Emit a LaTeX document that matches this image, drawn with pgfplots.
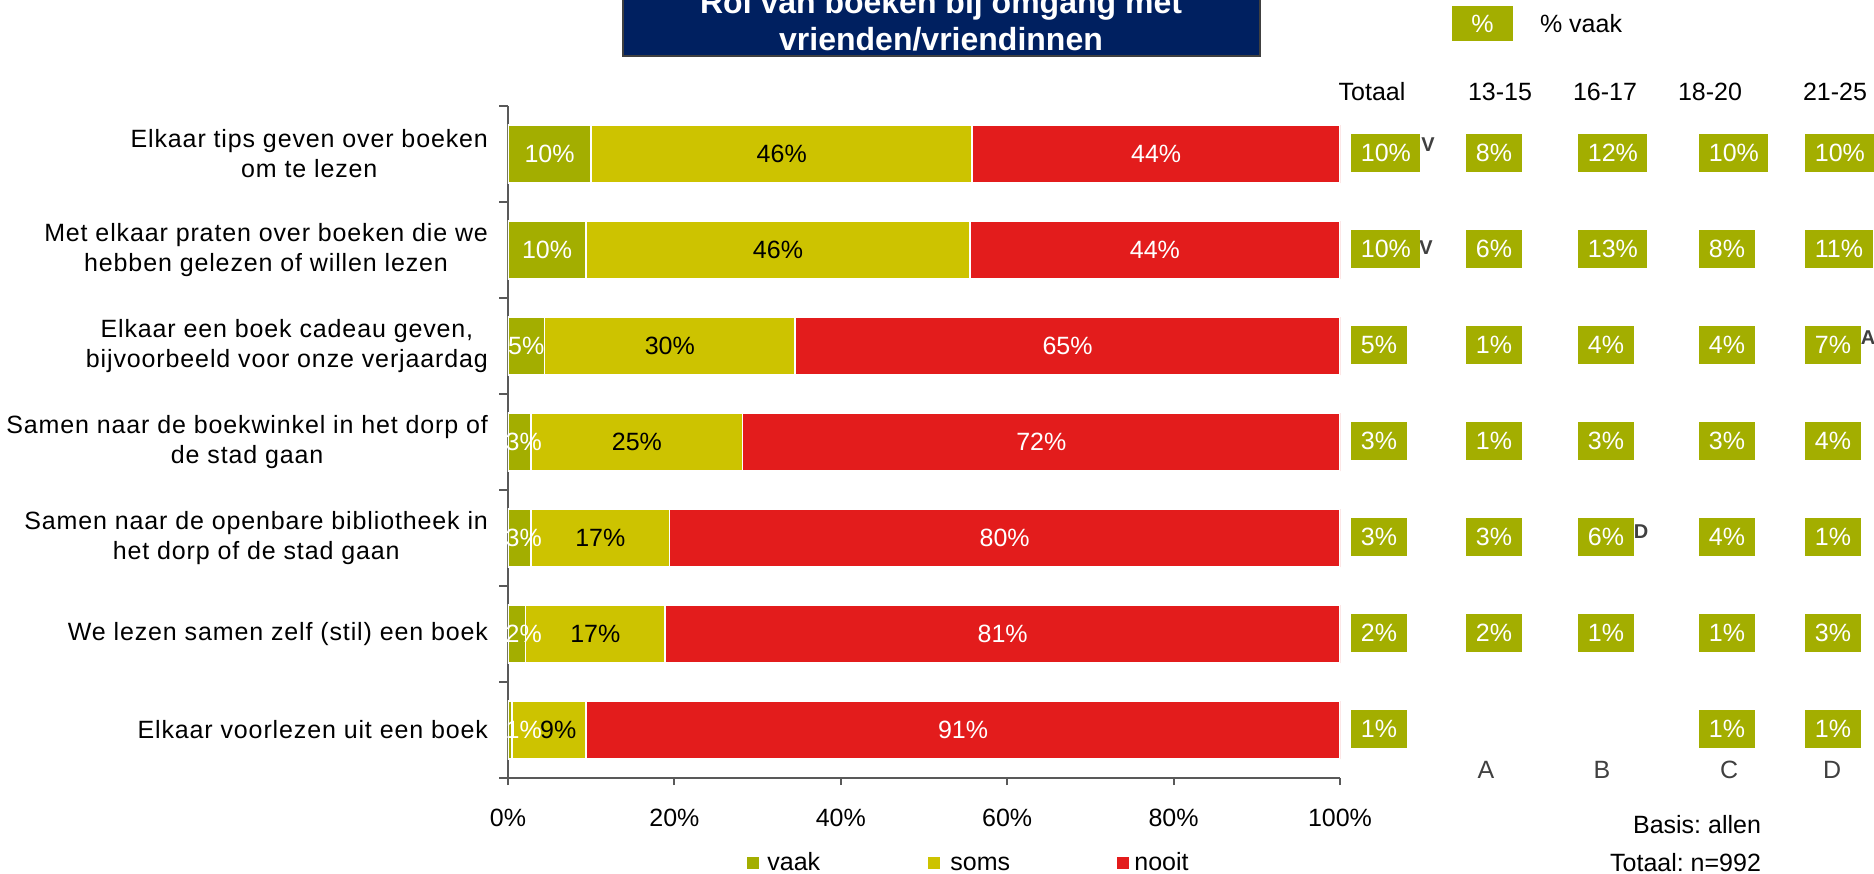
\documentclass[border=0pt]{standalone}
\usepackage{pgfplots}
\pgfplotsset{compat=1.18}
\usepackage{fontspec}
\setmainfont{Liberation Sans}
\newfontfamily\catfont[LetterSpace=3.5]{Liberation Sans}
\frenchspacing

\definecolor{vaak}{HTML}{A3AE00}
\definecolor{soms}{HTML}{CDC300}
\definecolor{nooit}{HTML}{E31C1C}
\definecolor{navy}{HTML}{002060}
\definecolor{axgray}{HTML}{595959}
\definecolor{lettergray}{HTML}{404040}

\newcommand{\fs}{\fontsize{12.5}{15}\selectfont}

\begin{document}
\begin{tikzpicture}
\begin{scope}
\clip (0pt,0pt) rectangle (937pt,-436.5pt);

% overlay in pixel units (1 unit = 0.5pt), y downwards
\begin{axis}[
    at={(0pt,0pt)}, anchor=north west,
    width=937pt, height=436.5pt, scale only axis,
    xmin=0, xmax=1874, ymin=0, ymax=873, y dir=reverse,
    hide axis, clip=false]

  % title box
  \fill[navy] (axis cs:623,-20) rectangle (axis cs:1260,56);
  \draw[black!75, line width=1pt] (axis cs:623,-20) -- (axis cs:623,56) -- (axis cs:1260,56) -- (axis cs:1260,-20);
  \node[anchor=base, text=white, font=\bfseries\fontsize{16}{19}\selectfont] at (axis cs:941,13) {Rol van boeken bij omgang met};
  \node[anchor=base, text=white, font=\bfseries\fontsize{16}{19}\selectfont] at (axis cs:941,50) {vrienden/vriendinnen};

  % key top right
  \node[fill=vaak, text=white, minimum width=30.5pt, minimum height=17.5pt, inner sep=0pt, font=\fs] at (axis cs:1482.5,23.5) {\%};
  \node[anchor=base west, font=\fs] at (axis cs:1533,32) {\% vaak};

  % column headers
  \node[anchor=base, font=\fs] at (axis cs:1372,100) {Totaal};
  \node[anchor=base, font=\fs] at (axis cs:1500,100) {13-15};
  \node[anchor=base, font=\fs] at (axis cs:1605,100) {16-17};
  \node[anchor=base, font=\fs] at (axis cs:1710,100) {18-20};
  \node[anchor=base, font=\fs] at (axis cs:1835,100) {21-25};

  % % vaak per age group
  \addplot[draw=none, mark=none, point meta=explicit symbolic,
    nodes near coords={\pgfplotspointmeta\%},
    nodes near coords style={anchor=west, fill=vaak, text=white, inner xsep=4.75pt,
      inner ysep=0pt, minimum height=19pt, font=\fs}]
  table[meta=m] {
x y m
1351 153 10
1351 249 10
1351 345 5
1351 441 3
1351 537 3
1351 633 2
1351 729 1
1466 153 8
1466 249 6
1466 345 1
1466 441 1
1466 537 3
1466 633 2
1578 153 12
1578 249 13
1578 345 4
1578 441 3
1578 537 6
1578 633 1
1699 153 10
1699 249 8
1699 345 4
1699 441 3
1699 537 4
1699 633 1
1699 729 1
1805 153 10
1805 249 11
1805 345 7
1805 441 4
1805 537 1
1805 633 3
1805 729 1
  };

  % significance letters
  \node[font=\bfseries\fontsize{10}{12}\selectfont, text=lettergray] at (axis cs:1428,145) {V};
  \node[font=\bfseries\fontsize{10}{12}\selectfont, text=lettergray] at (axis cs:1426,248) {V};
  \node[font=\bfseries\fontsize{10}{12}\selectfont, text=lettergray] at (axis cs:1641,532) {D};
  \node[font=\bfseries\fontsize{10}{12}\selectfont, text=lettergray] at (axis cs:1868,338) {A};

  % group letters
  \node[font=\fs, text=lettergray] at (axis cs:1486,770) {A};
  \node[font=\fs, text=lettergray] at (axis cs:1602,770) {B};
  \node[font=\fs, text=lettergray] at (axis cs:1729,770) {C};
  \node[font=\fs, text=lettergray] at (axis cs:1832,770) {D};

  \node[anchor=base east, font=\fs] at (axis cs:1768,833) {Basis: allen};
  \node[anchor=base east, font=\fs] at (axis cs:1768,871) {Totaal: n=992};

  % legend
  \fill[vaak] (axis cs:747,857) rectangle (axis cs:759,869);
  \node[anchor=base west, font=\fs, inner sep=0pt] at (axis cs:767,870) {vaak};
  \fill[soms] (axis cs:928,857) rectangle (axis cs:940,869);
  \node[anchor=base west, font=\fs, inner sep=0pt] at (axis cs:950,870) {soms};
  \fill[nooit] (axis cs:1117,857) rectangle (axis cs:1129,869);
  \node[anchor=base west, font=\fs, inner sep=0pt] at (axis cs:1134,870) {nooit};
\end{axis}

% main stacked bars
\begin{axis}[
    at={(254pt,-389pt)}, anchor=south west,
    width=416pt, height=336pt, scale only axis,
    xbar stacked, bar width=29pt,
    xmin=0, xmax=100, ymin=-0.5, ymax=6.5, y dir=reverse,
    axis x line*=bottom, axis y line*=left,
    axis line style={axgray, line width=1pt},
    tick align=outside,
    major tick length=3.5pt, minor tick length=4.5pt,
    xtick={0,20,40,60,80,100},
    xticklabels={0\%,20\%,40\%,60\%,80\%,100\%},
    xticklabel style={font=\fs, yshift=-8.5pt},
    major x tick style={axgray, line width=1pt},
    ytick={0,...,6},
    minor ytick={-0.5,0.5,...,6.5},
    major y tick style={draw=none},
    minor y tick style={axgray, line width=1pt},
    yticklabel style={align=center, font=\catfont\fontsize{12.5}{15}\selectfont, xshift=-3pt},
    yticklabels={
      {Elkaar tips geven over boeken\\om te lezen},
      {Met elkaar praten over boeken die we\\hebben gelezen of willen lezen},
      {Elkaar een boek cadeau geven,\\bijvoorbeeld voor onze verjaardag},
      {Samen naar de boekwinkel in het dorp of\\de stad gaan},
      {Samen naar de openbare bibliotheek in\\het dorp of de stad gaan},
      {We lezen samen zelf (stil) een boek},
      {Elkaar voorlezen uit een boek}},
    point meta=explicit symbolic,
    nodes near coords={\pgfplotspointmeta\%},
    visualization depends on={rawx \as \segw},
    visualization depends on={rawy \as \rowy},
    nodes near coords style={anchor=center, font=\fs},
  ]
  \addplot[fill=vaak, draw=white, line width=0.8pt,
    nodes near coords style={text=white, xshift={max(0,1.9-\segw/2)*4.16pt}}]
    coordinates {(10,0)[10] (9.4,1)[10] (4.4,2)[5] (2.8,3)[3] (2.8,4)[3] (2.1,5)[2] (0.5,6)[1]};
  \addplot[fill=soms, draw=white, line width=0.8pt,
    nodes near coords style={text=black, xshift={(\rowy==6)*4.5pt}}]
    coordinates {(45.8,0)[46] (46.1,1)[46] (30.1,2)[30] (25.4,3)[25] (16.6,4)[17] (16.8,5)[17] (8.9,6)[9]};
  \addplot[fill=nooit, draw=white, line width=0.8pt, nodes near coords style={text=white}]
    coordinates {(44.2,0)[44] (44.5,1)[44] (65.5,2)[65] (71.8,3)[72] (80.6,4)[80] (81.1,5)[81] (90.6,6)[91]};
\end{axis}
\end{scope}
\pgfresetboundingbox
\useasboundingbox (0pt,0pt) rectangle (937pt,-436.5pt);
\end{tikzpicture}
\end{document}
